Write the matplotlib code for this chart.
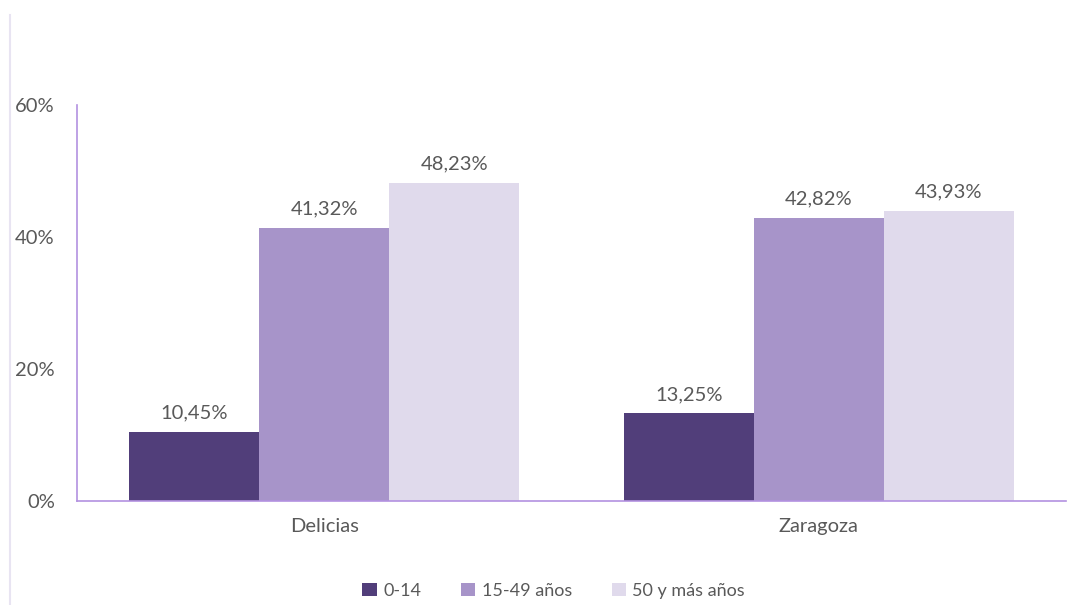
import matplotlib
matplotlib.use('Agg')
import matplotlib.pyplot as plt
import numpy as np
from matplotlib.lines import Line2D

plt.rcParams['font.family'] = ['Lato', 'DejaVu Sans']
plt.rcParams['font.weight'] = 'normal'

# Data
categories = ['Delicias', 'Zaragoza']
series = ['0-14', '15-49 años', '50 y más años']
values = [
    [10.45, 13.25],
    [41.32, 42.82],
    [48.23, 43.93],
]
colors = ['#513E7A', '#A794C9', '#E0DAEC']
text_col = '#595959'

fig = plt.figure(figsize=(10.85, 6.05), dpi=100)
ax = fig.add_axes([0.071, 0.172, 0.9115, 0.6545])

x = np.arange(len(categories))
w = 0.263
for i, (name, vals) in enumerate(zip(series, values)):
    pos = x + (i - 1) * w
    ax.bar(pos, vals, width=w, color=colors[i], label=name)
    for px, v in zip(pos, vals):
        ax.text(px, v + 1.6, '{:.2f}%'.format(v).replace('.', ','),
                ha='center', va='bottom', fontsize=14.5, color=text_col)

ax.set_xlim(-0.5, 1.5)
ax.set_ylim(0, 60)
ax.set_yticks([0, 20, 40, 60])
ax.set_yticklabels(['0%', '20%', '40%', '60%'])
ax.set_xticks(x)
ax.set_xticklabels(categories)
ax.tick_params(axis='both', length=0, labelsize=14.5, labelcolor=text_col)
ax.tick_params(axis='y', pad=16)
ax.tick_params(axis='x', pad=12)

for s in ['top', 'right']:
    ax.spines[s].set_visible(False)
for s in ['left', 'bottom']:
    ax.spines[s].set_color('#B391E0')
    ax.spines[s].set_linewidth(1.2)

ax.legend(loc='upper center', bbox_to_anchor=(0.482, -0.165), ncol=3,
          frameon=False, fontsize=13, handlelength=0.8, handleheight=0.8,
          handletextpad=0.35, columnspacing=2.2, labelcolor=text_col)

# light frame line on the left edge
fig.add_artist(Line2D([10 / 1085, 10 / 1085], [0, 1 - 15 / 605],
                      color='#E8E4F2', linewidth=1.5))

fig.savefig('out.png', dpi=100)
